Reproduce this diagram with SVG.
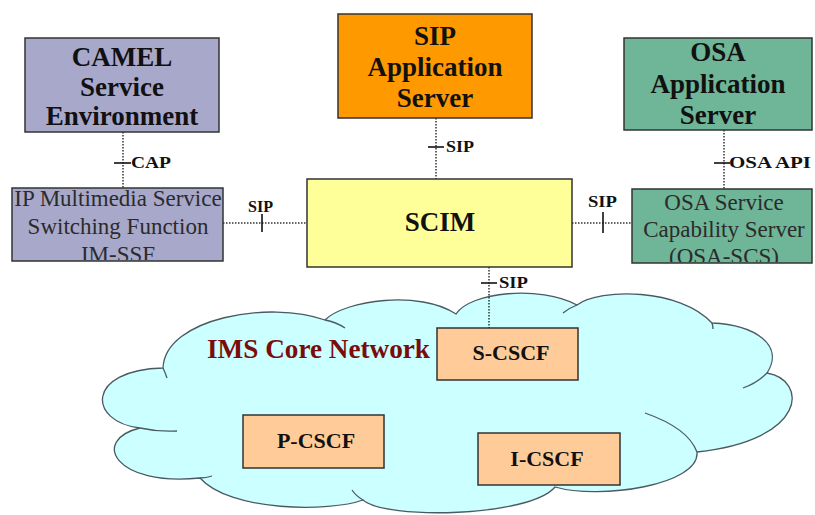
<svg xmlns="http://www.w3.org/2000/svg" width="815" height="515" viewBox="0 0 815 515">
<style>
.box{stroke:#333;stroke-width:1.5}
.h{font-family:"Liberation Serif","Times New Roman",serif;font-weight:bold;font-size:27px;fill:#111;text-anchor:middle}
.n{font-family:"Liberation Serif","Times New Roman",serif;font-size:23px;fill:#2b2b2b;text-anchor:middle}
.c{font-family:"Liberation Serif","Times New Roman",serif;font-weight:bold;font-size:22px;fill:#111;text-anchor:middle}
.lbl{font-family:"Liberation Serif","Times New Roman",serif;font-weight:bold;font-size:16px;fill:#111}
.dot{stroke:#333;stroke-width:1.5;stroke-dasharray:1.5 1.5;fill:none}
.tick{stroke:#111;stroke-width:1.6}
.inner{fill:none;stroke:#4a5a60;stroke-width:1.3}
</style>
<defs>
<clipPath id="clipIM"><rect x="12" y="188" width="211" height="72"/></clipPath>
<clipPath id="clipOSA"><rect x="632" y="189" width="180" height="73"/></clipPath>
</defs>
<rect width="815" height="515" fill="#fff"/>

<g id="cloud">
<path d="M163,368 C165,318 270,300 325,320 C345,300 420,290 456,314 C470,292 540,285 577,305 C600,288 680,288 712,323 C755,325 785,345 767,373 C808,380 808,440 697,452 C700,485 600,500 555,487 C530,517 385,520 363,500 C330,512 230,512 200,478 C115,487 90,440 140,428 C88,422 85,370 163,368 Z" fill="#ccffff" stroke="#4a5a60" stroke-width="1.3"/>
<path class="inner" d="M163,368 Q165,372 167,378"/>
<path class="inner" d="M140,428 Q158,432 177,431"/>
<path class="inner" d="M200,478 Q206,478 212,476"/>
<path class="inner" d="M363,500 Q356,496 352,490"/>
<path class="inner" d="M645,413 Q688,428 697,452"/>
<path class="inner" d="M767,373 Q757,383 743,388"/>
<path class="inner" d="M712,323 Q713,326 713,329"/>
<path class="inner" d="M563,313 Q569,308 577,305"/>
<path class="inner" d="M325,320 Q336,322 345,328"/>
<text x="207" y="358" font-family="Liberation Serif, Times New Roman, serif" font-weight="bold" font-size="27" fill="#7a0c0c" textLength="223" lengthAdjust="spacingAndGlyphs">IMS Core Network</text>
</g>

<g id="connectors">
<line class="dot" x1="123" y1="132" x2="123" y2="188"/>
<line class="tick" x1="114" y1="163" x2="131" y2="163"/>
<text class="lbl" x="131" y="168" textLength="40" lengthAdjust="spacingAndGlyphs">CAP</text>

<line class="dot" x1="436" y1="118" x2="436" y2="179"/>
<line class="tick" x1="428" y1="147" x2="444" y2="147"/>
<text class="lbl" x="446" y="152" textLength="28" lengthAdjust="spacingAndGlyphs">SIP</text>

<line class="dot" x1="724" y1="130" x2="724" y2="189"/>
<line class="tick" x1="714" y1="163" x2="730" y2="163"/>
<text class="lbl" x="729" y="168" textLength="82" lengthAdjust="spacingAndGlyphs">OSA API</text>

<line class="dot" x1="223" y1="223" x2="307" y2="223"/>
<line class="tick" x1="262" y1="214" x2="262" y2="232"/>
<text class="lbl" x="248" y="212" textLength="25" lengthAdjust="spacingAndGlyphs">SIP</text>

<line class="dot" x1="572" y1="223" x2="632" y2="223"/>
<line class="tick" x1="603" y1="212" x2="603" y2="233"/>
<text class="lbl" x="588" y="207" textLength="29" lengthAdjust="spacingAndGlyphs">SIP</text>

<line class="dot" x1="489" y1="267" x2="489" y2="328"/>
<line class="tick" x1="481" y1="283" x2="497" y2="283"/>
<text class="lbl" x="499" y="288" textLength="29" lengthAdjust="spacingAndGlyphs">SIP</text>
</g>

<g id="camel">
<rect class="box" x="25" y="38" width="194" height="94" fill="#a8a8ca"/>
<text class="h" x="122" y="66">CAMEL</text>
<text class="h" x="122" y="96">Service</text>
<text class="h" x="122" y="125">Environment</text>
</g>

<g id="sipas">
<rect class="box" x="338" y="14" width="194" height="104" fill="#ff9900"/>
<text class="h" x="435" y="45">SIP</text>
<text class="h" x="435" y="76">Application</text>
<text class="h" x="435" y="107">Server</text>
</g>

<g id="osaas">
<rect class="box" x="624" y="38" width="188" height="92" fill="#6fb597"/>
<text class="h" x="718" y="61">OSA</text>
<text class="h" x="718" y="93">Application</text>
<text class="h" x="718" y="124">Server</text>
</g>

<g id="imssf">
<rect class="box" x="12" y="188" width="211" height="73" fill="#a8a8ca"/>
<g clip-path="url(#clipIM)">
<text class="n" x="118" y="206">IP Multimedia Service</text>
<text class="n" x="118" y="234">Switching Function</text>
<text class="n" x="118" y="262">IM-SSF</text>
</g>
</g>

<g id="scim">
<rect class="box" x="307" y="179" width="265" height="88" fill="#ffff99"/>
<text class="h" x="440" y="231" font-size="28">SCIM</text>
</g>

<g id="osascs">
<rect class="box" x="632" y="189" width="180" height="74" fill="#6fb597"/>
<g clip-path="url(#clipOSA)">
<text class="n" x="724" y="210" fill="#223a2c">OSA Service</text>
<text class="n" x="724" y="237" fill="#223a2c">Capability Server</text>
<text class="n" x="724" y="264" fill="#223a2c">(OSA-SCS)</text>
</g>
</g>

<g id="scscf">
<rect class="box" x="437" y="328" width="141" height="52" fill="#ffcc99"/>
<text class="c" x="511" y="360">S-CSCF</text>
</g>

<g id="pcscf">
<rect class="box" x="243" y="415" width="141" height="53" fill="#ffcc99"/>
<text class="c" x="316" y="448">P-CSCF</text>
</g>

<g id="icscf">
<rect class="box" x="478" y="433" width="142" height="52" fill="#ffcc99"/>
<text class="c" x="547" y="466">I-CSCF</text>
</g>
</svg>
